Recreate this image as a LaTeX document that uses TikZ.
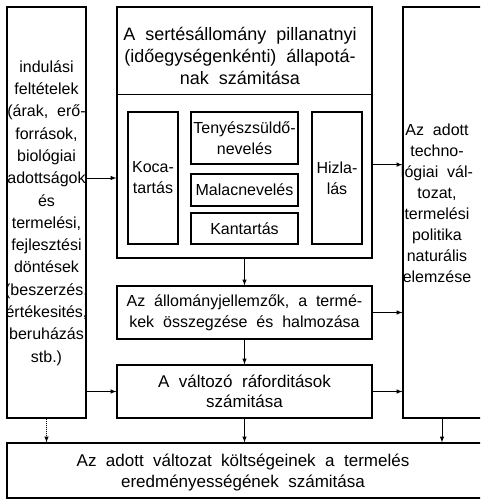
\documentclass[tikz,border=0pt]{standalone}
\usepackage{fontspec}
\setmainfont[WordSpace=2]{Liberation Sans}
\usetikzlibrary{arrows}
\usetikzlibrary{calc}
\tikzstyle{box} = [rectangle, draw, line width=1.2pt, inner sep=0pt, align=center, font=\fontsize{16}{21}\selectfont]
\tikzstyle{txt} = [inner sep=0pt, align=center, font=\fontsize{16}{21}\selectfont]
\tikzstyle{arr} = [-latex, line width=1pt]

\begin{document}
\begin{tikzpicture}[x=1pt,y=-1pt]
				\useasboundingbox (0,0) rectangle (480,501);
				\clip (0,0) rectangle (480,501);
				\node[box, minimum width=79pt, minimum height=411pt] (ind) at (46.5,212.5) {};
				\node[txt, font=\fontsize{16}{22.3}\selectfont] (indt) at (46.5,213) {indulási\\feltételek\\(árak, erő-\\források,\\biológiai\\adottságok\\és\\termelési,\\fejlesztési\\döntések\\(beszerzés,\\értékesités,\\beruházás\\stb.)};
				\node[box, minimum width=255pt, minimum height=251pt] (sim) at (244.5,132.5) {};
				\node[txt, font=\fontsize{18}{22}\selectfont] (simt) at (240,56) {A sertésállomány pillanatnyi\\(időegységenkénti) állapotá-\\nak számitása};
				\node[box, minimum width=50pt, minimum height=132pt] (koca) at (153,178) {Koca-\\tartás};
				\node[box, minimum width=107pt, minimum height=52pt] (tenyesz) at (244.5,138) {Tenyészsüldő-\\nevelés};
				\node[box, minimum width=107pt, minimum height=32pt] (malac) at (244.5,190) {Malacnevelés};
				\node[box, minimum width=107pt, minimum height=31pt] (kan) at (244.5,228.5) {Kantartás};
				\node[box, minimum width=50pt, minimum height=132pt] (hizla) at (337,178) {Hizla-\\lás};
				\node[box, minimum width=90pt, minimum height=411pt] (natur) at (448,212.5) {};
				\node[txt] (naturt) at (437,203.5) {Az adott\\techno-\\lógiai vál-\\tozat,\\termelési\\politika\\naturális\\elemzése};
				\node[box, minimum width=255pt, minimum height=53pt] (osszeg) at (244.5,312.5) {Az állományjellemzők, a termé-\\kek összegzése és halmozása};
				\node[box, minimum width=255pt, minimum height=53pt, font=\fontsize{17}{20}\selectfont] (valt) at (244.5,391.5) {A változó ráforditások\\számitása};
				\node[box, minimum width=485pt, minimum height=55pt] (kolts) at (249.5,470.5) {};
				\node[txt, font=\fontsize{17}{21}\selectfont] (koltst) at (243,472) {Az adott változat költségeinek a termelés\\eredményességének számitása};
				\coordinate (nd) at ($(natur.south)+(-6,0)$);
				%%%%%%%%%%%%%%%%%%%%%%%%%%%%%%%%%%
				\draw[line width=1.2pt] ($(sim.north west)+(0,88)$) -- ($(sim.north east)+(0,88)$);
				%%%%%%%%%%%%%%%%%%%%%%%%%%%%%%%%%%
				\draw[arr] (ind.east |- koca) -- (sim.west |- koca);
				\draw[arr] (sim.east |- tenyesz.south) -- (natur.west |- tenyesz.south);
				\draw[arr] (sim.south) -- (osszeg.north);
				\draw[arr] (osszeg.south) -- (valt.north);
				\draw[arr] (valt.south) -- (valt.south |- kolts.north);
				\draw[arr] (osszeg.east) -- (natur.west |- osszeg.east);
				\draw[arr] (valt.east) -- (natur.west |- valt.east);
				\draw[arr] (ind.east |- valt.west) -- (valt.west);
				\draw[arr] (nd) -- (nd |- kolts.north);
				\draw[arr, densely dotted] (ind.south) -- (ind.south |- kolts.north);
			\end{tikzpicture}
\end{document}
